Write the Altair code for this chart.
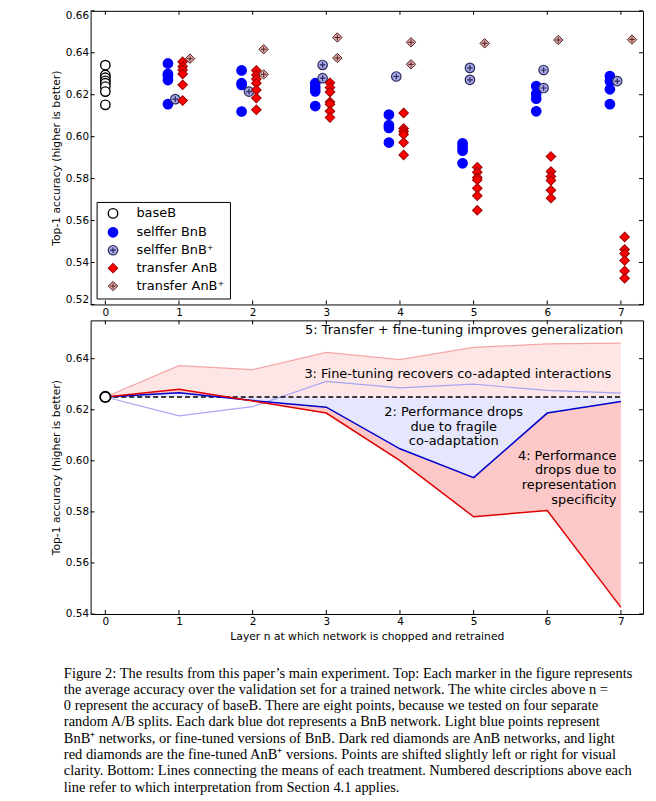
import altair as alt
import pandas as pd

# ---------------- data ----------------
LAYERS = [0, 1, 2, 3, 4, 5, 6, 7]

BASE_B = [0.6341, 0.6294, 0.6281, 0.6266, 0.6255, 0.6239, 0.6215, 0.6152]

BNB = {
    1: [0.6349, 0.6299, 0.6290, 0.6270, 0.6155],
    2: [0.6316, 0.6255, 0.6247, 0.6120],
    3: [0.6255, 0.6235, 0.6216, 0.6146],
    4: [0.6105, 0.6055, 0.6042, 0.5972],
    5: [0.5968, 0.5949, 0.5933, 0.5873],
    6: [0.6241, 0.6205, 0.6181, 0.6121],
    7: [0.6289, 0.6264, 0.6226, 0.6155],
}
BNB_PLUS = {
    1: [0.6179],
    2: [0.6215],
    3: [0.6342, 0.6279],
    4: [0.6287],
    5: [0.6328, 0.6271],
    6: [0.6318, 0.6232],
    7: [0.6265],
}
ANB = {
    1: [0.6357, 0.6334, 0.6318, 0.6299, 0.6247, 0.6172],
    2: [0.6316, 0.6294, 0.6275, 0.6255, 0.6223, 0.6184, 0.6128],
    3: [0.6257, 0.6235, 0.6213, 0.6165, 0.6155, 0.6121, 0.6091],
    4: [0.6113, 0.6039, 0.6025, 0.6010, 0.5972, 0.5913],
    5: [0.5854, 0.5830, 0.5805, 0.5794, 0.5754, 0.5718, 0.5649],
    6: [0.5905, 0.5834, 0.5810, 0.5791, 0.5744, 0.5707],
    7: [0.5522, 0.5462, 0.5443, 0.5410, 0.5360, 0.5325],
}
ANB_PLUS = {
    1: [0.6372],
    2: [0.6417, 0.6297],
    3: [0.6473, 0.6375],
    4: [0.6450, 0.6345],
    5: [0.6445],
    6: [0.6461],
    7: [0.6463],
}

MEAN_BASE = 0.625
MEAN_ANB_PLUS = [0.625, 0.6373, 0.6357, 0.6425, 0.6396, 0.6444, 0.6458, 0.6461]
MEAN_BNB_PLUS = [0.625, 0.6176, 0.6212, 0.6311, 0.6286, 0.6300, 0.6276, 0.6265]
MEAN_BNB = [0.625, 0.6267, 0.6236, 0.6210, 0.6047, 0.5934, 0.6187, 0.6232]
MEAN_ANB = [0.625, 0.6280, 0.6234, 0.6187, 0.6001, 0.5781, 0.5805, 0.5426]

SERIES = ["baseB", "selffer BnB", "selffer BnB\u207a", "transfer AnB", "transfer AnB\u207a"]
SHIFT = [0.0, -0.15, -0.05, 0.05, 0.15]

Y_TICKS_TOP = [0.52, 0.54, 0.56, 0.58, 0.60, 0.62, 0.64, 0.66]
Y_TICKS_BOT = [0.54, 0.56, 0.58, 0.60, 0.62, 0.64]

CAPTION = [
    "Figure 2: The results from this paper\u2019s main experiment. Top: Each marker in the figure represents",
    "the average accuracy over the validation set for a trained network. The white circles above n =",
    "0 represent the accuracy of baseB. There are eight points, because we tested on four separate",
    "random A/B splits. Each dark blue dot represents a BnB network. Light blue points represent",
    "BnB\u207a networks, or fine-tuned versions of BnB. Dark red diamonds are AnB networks, and light",
    "red diamonds are the fine-tuned AnB\u207a versions. Points are shifted slightly left or right for visual",
    "clarity. Bottom: Lines connecting the means of each treatment. Numbered descriptions above each",
    "line refer to which interpretation from Section 4.1 applies.",
]

# ---------------- tables ----------------
rows = []
for v in BASE_B:
    rows.append({"series": SERIES[0], "x": 0 + SHIFT[0], "acc": v})
for k, dct in enumerate([BNB, BNB_PLUS, ANB, ANB_PLUS], start=1):
    for layer, vals in dct.items():
        for v in vals:
            rows.append({"series": SERIES[k], "x": layer + SHIFT[k], "acc": v})
pts = pd.DataFrame(rows)

means = pd.DataFrame({
    "x": LAYERS,
    "anbp": MEAN_ANB_PLUS,
    "bnbp": MEAN_BNB_PLUS,
    "bnb": MEAN_BNB,
    "anb": MEAN_ANB,
    "base": [MEAN_BASE] * len(LAYERS),
})

# ---------------- styling ----------------
W, H = 555, 295
TL = 4  # inward tick length
FONT = "DejaVu Sans"
YTITLE = "Top-1 accuracy (higher is better)"

CIRCLE = "M1,0A1,1,0,1,1,-1,0A1,1,0,1,1,1,0Z"
DIAMOND = "M0,-1L1,0L0,1L-1,0Z"
PLUS = "M-0.6,0L0.6,0M0,-0.6L0,0.6"
SHAPES = [CIRCLE, CIRCLE, CIRCLE + PLUS, DIAMOND, DIAMOND + PLUS]
FILLS = ["white", "#0000ff", "#a8a8e8", "#ff0000", "#e8acac"]
STROKES = ["black", "#0000ff", "#2a2a5a", "#a00000", "#4a2020"]
SIZES = [90, 90, 80, 115, 95]
SWIDTHS = [1.4, 1.0, 1.0, 0.8, 1.0]

xscale = alt.Scale(domain=[-0.2, 7.3], nice=False, zero=False)
ysc_top = alt.Scale(domain=[0.52, 0.66], nice=False, zero=False)
ysc_bot = alt.Scale(domain=[0.54, 0.655], nice=False, zero=False)

xaxis_top = alt.Axis(values=LAYERS, format="d", labelPadding=3, title=None)
xaxis_bot = alt.Axis(values=LAYERS, format="d", labelPadding=3, titlePadding=3)
yaxis_top = alt.Axis(values=Y_TICKS_TOP, format=".2f", labelPadding=2, titlePadding=4, labelFlush=True)
yaxis_bot = alt.Axis(values=Y_TICKS_BOT, format=".2f", labelPadding=2, titlePadding=4)

XT_TITLE = "Layer n at which network is chopped and retrained"


def X(field, bottom):
    if bottom:
        return alt.X(field, scale=xscale, axis=xaxis_bot, title=XT_TITLE)
    return alt.X(field, scale=xscale, axis=xaxis_top)


def Y(field, ysc, yax):
    return alt.Y(field, scale=ysc, axis=yax, title=YTITLE)


def frame_ticks(ysc, yax, yvals, bottom):
    xt = pd.DataFrame({"x": LAYERS})
    yt = pd.DataFrame({"acc": yvals})
    r = dict(color="black", strokeWidth=1)
    t_bot = alt.Chart(xt).mark_rule(**r).encode(x=X("x:Q", bottom), y=alt.value(H), y2=alt.value(H - TL))
    t_top = alt.Chart(xt).mark_rule(**r).encode(x=X("x:Q", bottom), y=alt.value(0), y2=alt.value(TL))
    t_lft = alt.Chart(yt).mark_rule(**r).encode(y=Y("acc:Q", ysc, yax), x=alt.value(0), x2=alt.value(TL))
    t_rgt = alt.Chart(yt).mark_rule(**r).encode(y=Y("acc:Q", ysc, yax), x=alt.value(W - TL), x2=alt.value(W))
    return [t_bot, t_top, t_lft, t_rgt]


leg = alt.Legend(
    title=None, orient="bottom-left", offset=6, padding=5, rowPadding=3,
    strokeColor="black", fillColor="white", cornerRadius=0,
    labelFont=FONT, labelFontSize=13, labelColor="black",
    labelOffset=17, symbolOffset=5,
)

# ---------------- top panel ----------------
scatter = alt.Chart(pts).mark_point(filled=True, opacity=1).encode(
    x=X("x:Q", False),
    y=Y("acc:Q", ysc_top, yaxis_top),
    shape=alt.Shape("series:N", scale=alt.Scale(domain=SERIES, range=SHAPES), legend=leg),
    fill=alt.Fill("series:N", scale=alt.Scale(domain=SERIES, range=FILLS), legend=leg),
    stroke=alt.Stroke("series:N", scale=alt.Scale(domain=SERIES, range=STROKES), legend=leg),
    size=alt.Size("series:N", scale=alt.Scale(domain=SERIES, range=SIZES), legend=leg),
    strokeWidth=alt.StrokeWidth("series:N", scale=alt.Scale(domain=SERIES, range=SWIDTHS), legend=leg),
)

top = alt.layer(scatter, *frame_ticks(ysc_top, yaxis_top, Y_TICKS_TOP, False)).properties(width=W, height=H)

# ---------------- bottom panel ----------------
yb = lambda f: Y(f, ysc_bot, yaxis_bot)
xb = lambda f: X(f, True)

area_up = alt.Chart(means).mark_area(color="#ffe6e6", opacity=1).encode(x=xb("x:Q"), y=yb("anbp:Q"), y2="base:Q")
area_co = alt.Chart(means).mark_area(color="#e6e6fc", opacity=1).encode(x=xb("x:Q"), y=yb("base:Q"), y2="bnb:Q")
area_sp = alt.Chart(means).mark_area(color="#fcc8c8", opacity=1).encode(x=xb("x:Q"), y=yb("bnb:Q"), y2="anb:Q")

ln_anbp = alt.Chart(means).mark_line(color="#f4a6a6", strokeWidth=1.2).encode(x=xb("x:Q"), y=yb("anbp:Q"))
ln_bnbp = alt.Chart(means).mark_line(color="#a6a6f4", strokeWidth=1.2).encode(x=xb("x:Q"), y=yb("bnbp:Q"))
ln_base = alt.Chart(means).mark_line(color="black", strokeWidth=1.3, strokeDash=[5, 3]).encode(x=xb("x:Q"), y=yb("base:Q"))
ln_bnb = alt.Chart(means).mark_line(color="#0000cc", strokeWidth=1.5).encode(x=xb("x:Q"), y=yb("bnb:Q"))
ln_anb = alt.Chart(means).mark_line(color="#e00000", strokeWidth=1.5).encode(x=xb("x:Q"), y=yb("anb:Q"))

origin = alt.Chart(means.iloc[[0]]).mark_point(
    shape="circle", size=110, fill="white", stroke="black", strokeWidth=1.8, opacity=1, filled=False
).encode(x=xb("x:Q"), y=yb("base:Q"))

one = pd.DataFrame({"k": [0]})
tstyle = dict(font=FONT, fontSize=13, color="black", baseline="middle", lineHeight=14.8)
txt5 = alt.Chart(one).mark_text(align="right", text="5: Transfer + fine-tuning improves generalization", **tstyle).encode(
    x=alt.datum(7.03), y=alt.datum(0.6511))
txt3 = alt.Chart(one).mark_text(align="right", text="3: Fine-tuning recovers co-adapted interactions", **tstyle).encode(
    x=alt.datum(6.87), y=alt.datum(0.6339))
txt2 = alt.Chart(one).mark_text(align="center", text=["2: Performance drops", "due to fragile", "co-adaptation"], **tstyle).encode(
    x=alt.datum(4.73), y=alt.datum(0.6191))
txt4 = alt.Chart(one).mark_text(align="right", text=["4: Performance", "drops due to", "representation", "specificity"], **tstyle).encode(
    x=alt.datum(6.94), y=alt.datum(0.6020))

bottom = alt.layer(
    area_up, area_co, area_sp, ln_anbp, ln_bnbp, ln_base, ln_bnb, ln_anb, origin,
    txt5, txt3, txt2, txt4,
    *frame_ticks(ysc_bot, yaxis_bot, Y_TICKS_BOT, True),
).properties(width=W, height=H)

chart = alt.vconcat(top, bottom, spacing=1).resolve_legend(
    shape="independent", fill="independent", stroke="independent",
    size="independent", strokeWidth="independent",
).properties(
    background="white",
    padding={"left": 42, "top": 0, "right": 4, "bottom": 0},
    title=alt.TitleParams(
        text=CAPTION, orient="bottom", anchor="start", font="Liberation Serif",
        fontSize=14.5, fontWeight="normal", lineHeight=16.4, color="black", offset=25, dx=14,
    ),
).configure_view(stroke="black", strokeWidth=1).configure_axis(
    grid=False, ticks=False, domain=False,
    labelFont=FONT, labelFontSize=10.5, labelColor="black",
    titleFont=FONT, titleFontSize=10.8, titleFontWeight="normal", titleColor="black",
)

chart.save("out.html", embed_options={"renderer": "svg", "actions": False})
